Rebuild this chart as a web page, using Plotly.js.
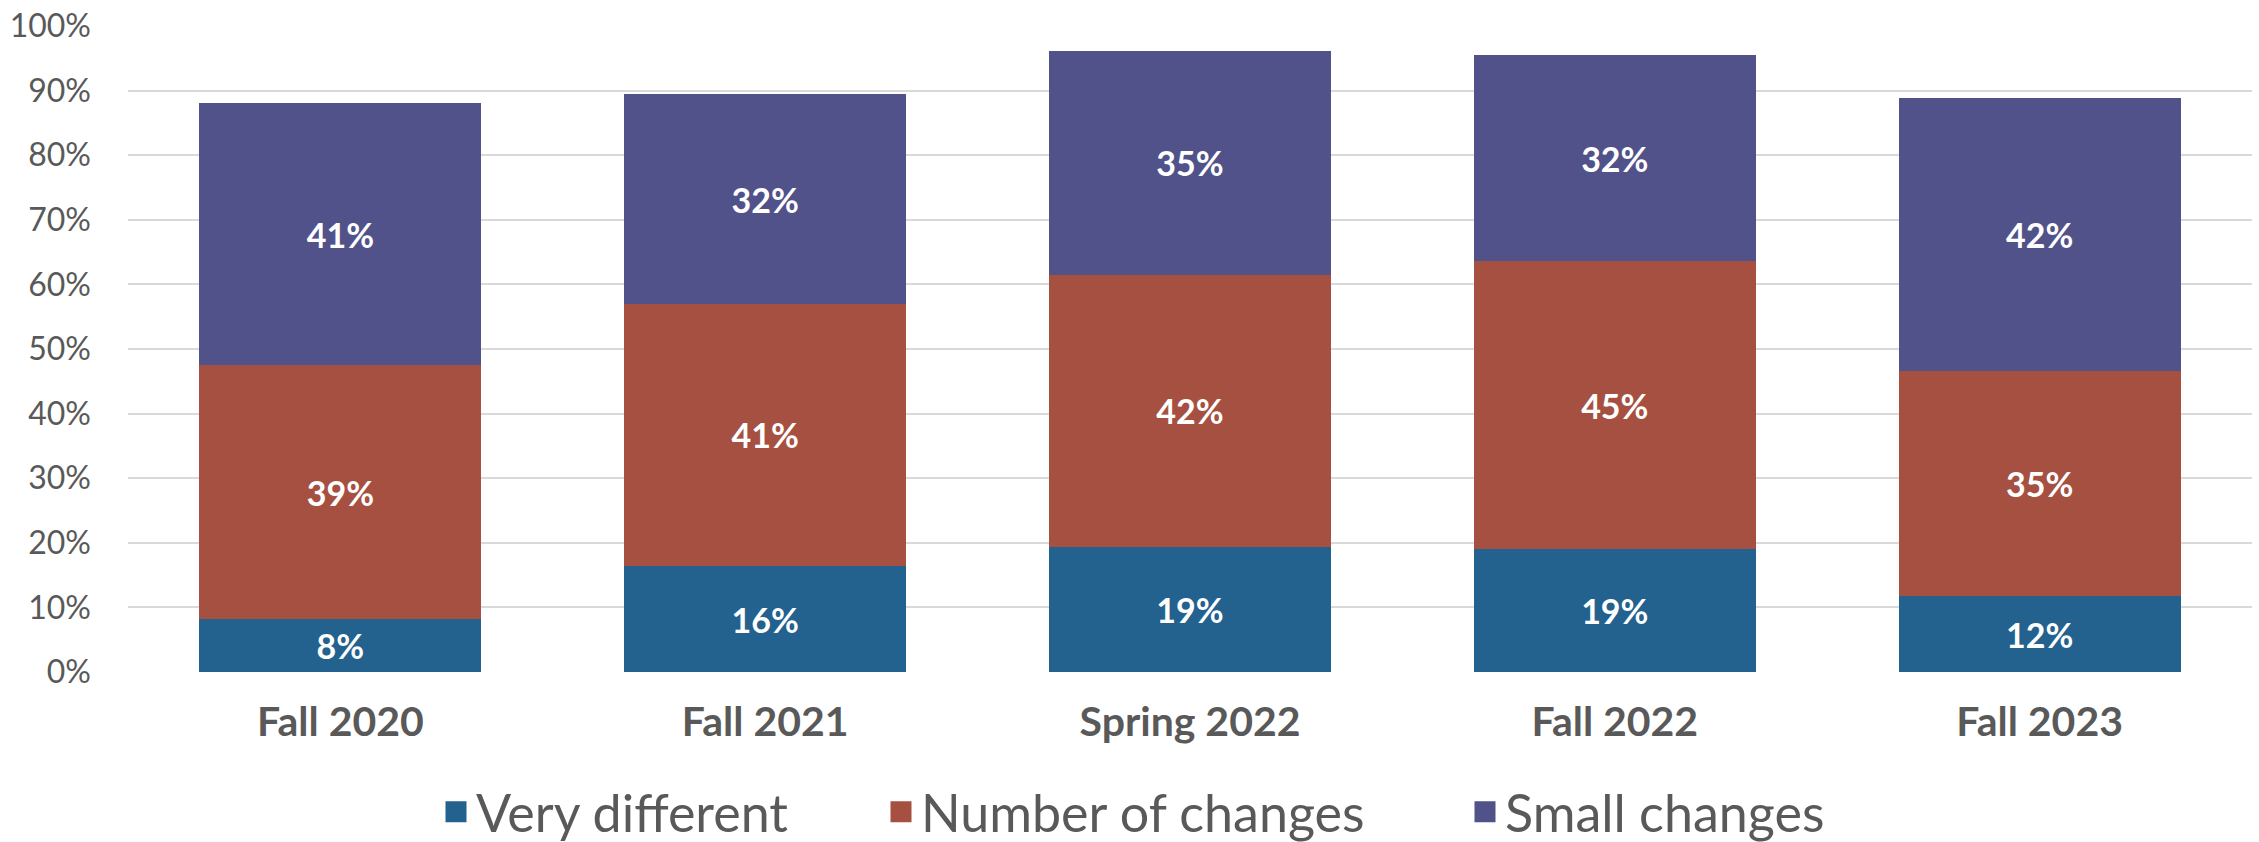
<!DOCTYPE html>
<html>
<head>
<meta charset="utf-8">
<script src="https://cdn.plot.ly/plotly-3.0.1.min.js"></script>
<style>
  html, body { margin: 0; padding: 0; background: #ffffff; }
  #chart { width: 2259px; height: 842px; }
</style>
</head>
<body>
<div id="chart"></div>
<script>
// Categories (x axis)
const categories = ["Fall 2020", "Fall 2021", "Spring 2022", "Fall 2022", "Fall 2023"];

// Series values (percent)
const veryDifferent   = [8.2, 16.4, 19.4, 19.0, 11.7];
const numberOfChanges = [39.3, 40.6, 42.1, 44.6, 34.9];
const smallChanges    = [40.6, 32.4, 34.6, 31.9, 42.3];

// Y tick values / labels
const yTickVals  = [0, 10, 20, 30, 40, 50, 60, 70, 80, 90, 100];
const yTickText  = ["0%", "10%", "20%", "30%", "40%", "50%", "60%", "70%", "80%", "90%", "100%"];

const seriesNames  = ["Very different", "Number of changes", "Small changes"];
const seriesColors = ["#23618e", "#a65041", "#52528a"];
const seriesData   = [veryDifferent, numberOfChanges, smallChanges];
const legendIds    = ["legend", "legend2", "legend3"];

const FONT = "Lato, 'Noto Sans', 'DejaVu Sans', sans-serif";

const barTraces = seriesData.map((vals, i) => ({
  type: "bar",
  name: seriesNames[i],
  x: categories,
  y: vals,
  marker: { color: seriesColors[i], line: { width: 0 } },
  texttemplate: "%{y:.0f}%",
  textposition: "inside",
  insidetextanchor: "middle",
  constraintext: "none",
  textfont: { family: FONT, size: 34, color: "#ffffff", weight: 700 },
  showlegend: false,
  hoverinfo: "skip"
}));

// Legend entries (square markers, nothing plotted)
const legendTraces = seriesNames.map((nm, i) => ({
  type: "scatter",
  mode: "markers",
  name: nm,
  x: [categories[0]],
  y: [null],
  marker: { symbol: "square", size: 16, color: seriesColors[i],
            line: { color: seriesColors[i], width: 5 } },
  legend: legendIds[i],
  showlegend: true,
  hoverinfo: "skip"
}));

function legendBox(xc) {
  return {
    orientation: "h",
    xref: "container",
    yref: "container",
    x: xc,
    xanchor: "left",
    y: 0.0356,
    yanchor: "middle",
    font: { family: FONT, size: 52, color: "#595959" },
    bgcolor: "rgba(0,0,0,0)",
    borderwidth: 0
  };
}

const layout = {
  width: 2259,
  height: 842,
  paper_bgcolor: "#ffffff",
  plot_bgcolor: "#ffffff",
  barmode: "stack",
  bargap: 0.336,
  margin: { l: 128, r: 7, t: 26, b: 170, pad: 0 },
  font: { family: FONT, color: "#595959" },
  xaxis: {
    type: "category",
    categoryarray: categories,
    showgrid: false,
    showline: false,
    zeroline: false,
    ticks: "",
    ticklabelstandoff: 22,
    tickfont: { family: FONT, size: 41, color: "#595959", weight: 700 },
    fixedrange: true
  },
  yaxis: {
    range: [0, 100],
    tickvals: yTickVals,
    ticktext: yTickText,
    showgrid: true,
    gridcolor: "#d9d9d9",
    gridwidth: 2,
    zeroline: false,
    showline: false,
    ticks: "",
    ticklabelstandoff: 36,
    tickfont: { family: FONT, size: 32, color: "#595959" },
    fixedrange: true
  },
  showlegend: true,
  legend:  legendBox((481 - 45) / 2259),
  legend2: legendBox((926 - 45) / 2259),
  legend3: legendBox((1510 - 45) / 2259)
};

Plotly.newPlot("chart", barTraces.concat(legendTraces), layout, { displayModeBar: false, staticPlot: true });
</script>
</body>
</html>
